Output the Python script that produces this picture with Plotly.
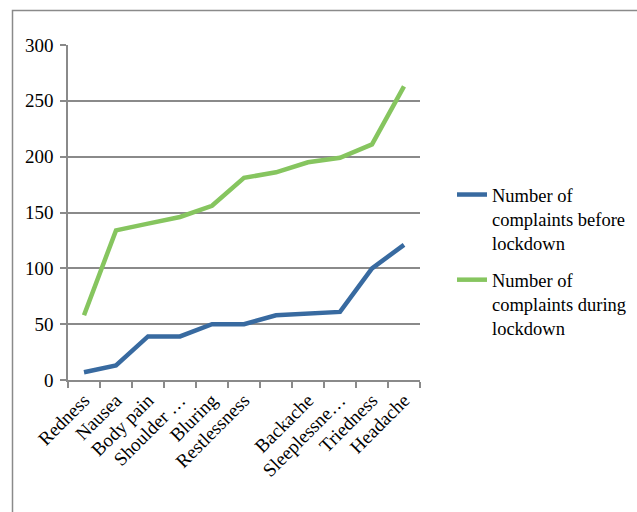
import plotly.graph_objects as go

categories = ["Redness", "Nausea", "Body pain", "Shoulder …", "Bluring", "Restlessness",
              " ", "Backache", "Sleeplessne…", "Triedness", "Headache"]
before = [7, 13, 39, 39, 50, 50, 58, 60, 61, 100, 121]
during = [58, 134, 140, 146, 156, 181, 186, 195, 199, 211, 263]
series_names = ["Number of<br>complaints before<br>lockdown",
                "Number of<br>complaints during<br>lockdown"]
y_ticks = [0, 50, 100, 150, 200, 250, 300]

FONT = "Liberation Serif, serif"
W, H = 637, 512
L, R, T, B = 68, 420, 45, 380

fig = go.Figure()
fig.add_trace(go.Scatter(x=categories, y=before, mode="lines", name=series_names[0],
                         legendgroup="g1",
                         line=dict(color="#386AA0", width=4.5)))
fig.add_trace(go.Scatter(x=categories, y=during, mode="lines", name=series_names[1],
                         legendgroup="g2",
                         line=dict(color="#86C55F", width=4.5)))

def px_x(p):
    return (p - L) / (R - L)

def px_y(p):
    return (B - p) / (B - T)

fig.add_shape(type="rect", xref="paper", yref="paper",
              x0=px_x(12.5), x1=px_x(645), y0=px_y(520), y1=px_y(10.5),
              line=dict(color="#8A8A8A", width=1.5), fillcolor="rgba(0,0,0,0)", layer="below")

fig.update_layout(
    width=W, height=H,
    margin=dict(l=L, r=W - R, t=T, b=H - B, pad=0, autoexpand=False),
    paper_bgcolor="white", plot_bgcolor="white",
    font=dict(family=FONT, size=19, color="black"),
    showlegend=True,
    legend=dict(x=px_x(452), y=px_y(176), xanchor="left", yanchor="top",
                valign="top", tracegroupgap=10, font=dict(size=18.5, family=FONT),
                bgcolor="rgba(0,0,0,0)", itemwidth=30),
    xaxis=dict(type="category", showgrid=False, showline=True, linecolor="#8A8A8A",
               linewidth=1.5, ticks="outside", ticklen=6, tickcolor="#8A8A8A",
               tickwidth=1.5, tickson="boundaries", tickangle=-45,
               tickfont=dict(size=19, family=FONT), range=[-0.5, 10.5]),
    yaxis=dict(range=[0, 300], tickvals=y_ticks, showgrid=True, gridcolor="#8A8A8A",
               gridwidth=1.5, showline=True, linecolor="#8A8A8A", linewidth=1.5,
               ticks="outside", ticklen=6, tickcolor="#8A8A8A", tickwidth=1.5,
               ticklabelstandoff=3, zeroline=False,
               tickfont=dict(size=19, family=FONT)),
)

fig.write_html("out.html")
